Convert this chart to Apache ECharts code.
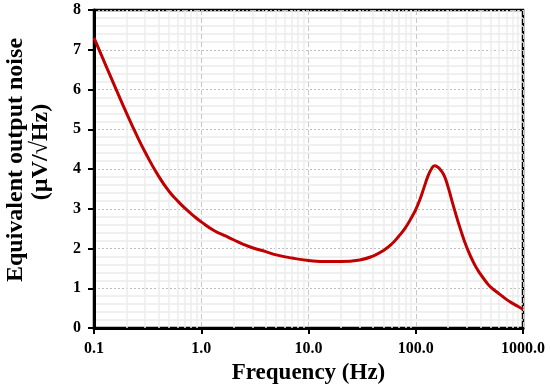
<!DOCTYPE html>
<html><head><meta charset="utf-8">
<script src="https://cdn.jsdelivr.net/npm/echarts@6/dist/echarts.min.js"></script>
<style>html,body{margin:0;padding:0;background:#fff}#c{width:550px;height:391px}</style>
</head><body><div id="c"></div>
<script>
var freq = [0.1, 0.12, 0.14, 0.17, 0.2, 0.25, 0.3, 0.4, 0.5, 0.6, 0.7, 0.85, 1.0, 1.3, 1.7, 2, 2.5, 3, 4, 5, 7, 10, 15, 20, 30, 40, 50, 60, 70, 80, 90, 100, 110, 120, 130, 140, 150, 160, 170, 185, 200, 215, 230, 260, 300, 350, 400, 450, 500, 600, 700, 800, 900, 1000];
var noise = [7.3, 6.8, 6.38, 5.85, 5.42, 4.85, 4.42, 3.82, 3.44, 3.2, 3.02, 2.82, 2.67, 2.46, 2.31, 2.22, 2.1, 2.02, 1.92, 1.84, 1.76, 1.7, 1.67, 1.67, 1.71, 1.81, 1.95, 2.12, 2.32, 2.52, 2.75, 2.98, 3.25, 3.55, 3.82, 4.0, 4.08, 4.05, 3.98, 3.82, 3.55, 3.25, 2.97, 2.5, 2.02, 1.62, 1.36, 1.17, 1.03, 0.86, 0.72, 0.62, 0.54, 0.47];
var xTicks = ['0.1', '1.0', '10.0', '100.0', '1000.0'];
var minorX = [0.2,0.3,0.4,0.5,0.6,0.7,0.8,0.9,2,3,4,5,6,7,8,9,20,30,40,50,60,70,80,90,200,300,400,500,600,700,800,900];

var chart = echarts.init(document.getElementById('c'));
var font = '"Liberation Serif", "Times New Roman", serif';
chart.setOption({
  animation: false,
  grid: {left: 94, right: 27, top: 10, bottom: 63, show: true, borderColor: '#000', borderWidth: 2.5, backgroundColor: 'transparent'},
  xAxis: {
    type: 'log', logBase: 10, min: 0.1, max: 1000,
    axisLine: {show: true, lineStyle: {color: '#000', width: 3}},
    axisTick: {show: true, inside: false, length: 6, lineStyle: {color: '#000', width: 2}},
    axisLabel: {color: '#000', fontFamily: font, fontWeight: 'bold', fontSize: 16, margin: 13,
      formatter: function (v) { var i = Math.round(Math.log10(v)) + 1; return xTicks[i] !== undefined ? xTicks[i] : ''; }},
    splitLine: {show: true, lineStyle: {color: '#c8c8c8', type: [5, 3], width: 1}},
    minorTick: {show: false},
    name: 'Frequency (Hz)', nameLocation: 'middle', nameGap: 32,
    nameTextStyle: {color: '#000', fontFamily: font, fontWeight: 'bold', fontSize: 23}
  },
  yAxis: {
    type: 'value', min: 0, max: 8, interval: 1,
    axisLine: {show: true, lineStyle: {color: '#000', width: 3}},
    axisTick: {show: true, inside: false, length: 6, lineStyle: {color: '#000', width: 2}},
    axisLabel: {color: '#000', fontFamily: font, fontWeight: 'bold', fontSize: 16, margin: 13},
    splitLine: {show: true, lineStyle: {color: '#bdbdbd', type: [2, 2], width: 1}},
    minorTick: {show: false, splitNumber: 5},
    minorSplitLine: {show: true, lineStyle: {color: '#ececec', width: 1.5}}
  },
  graphic: [
    {type: 'text', x: 16, y: 160, rotation: Math.PI / 2, silent: true,
      style: {text: 'Equivalent output noise', fill: '#000', font: 'bold 24px ' + font, textAlign: 'center', textVerticalAlign: 'middle'}},
    {type: 'text', x: 41, y: 152, rotation: Math.PI / 2, silent: true,
      style: {text: '(µV/√Hz)', fill: '#000', font: 'bold 24px ' + font, textAlign: 'center', textVerticalAlign: 'middle'}}
  ],
  series: [
    {
      type: 'line', data: [], silent: true,
      markLine: {symbol: 'none', silent: true, label: {show: false},
        lineStyle: {color: '#ececec', type: 'solid', width: 1.5},
        data: minorX.map(function (v) { return {xAxis: v}; })}
    },
    {
      type: 'line', smooth: 0.5, showSymbol: false, silent: true,
      data: freq.map(function (f, i) { return [f, noise[i]]; }),
      lineStyle: {color: '#c00000', width: 3},
      z: 5
    }
  ]
});
</script></body></html>
